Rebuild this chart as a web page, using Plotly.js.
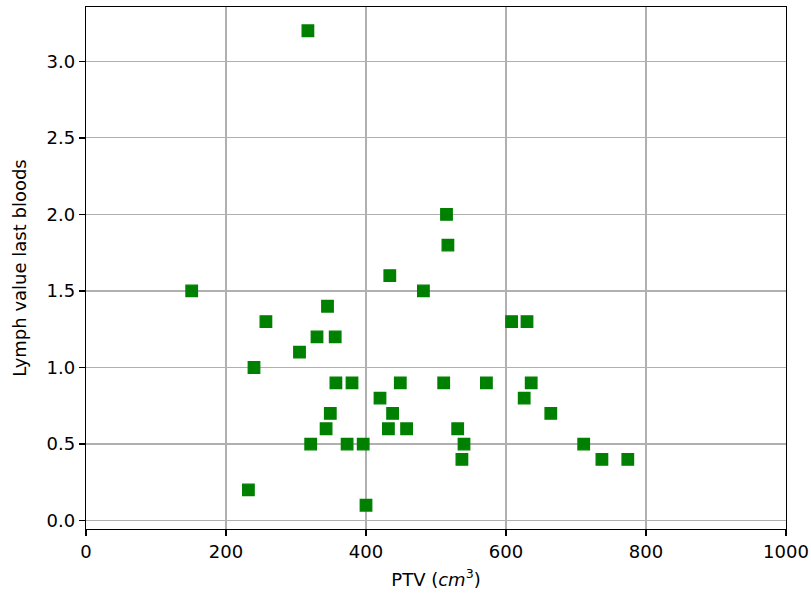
<!DOCTYPE html>
<html>
<head>
<meta charset="utf-8">
<script src="https://cdn.plot.ly/plotly-3.0.1.min.js"></script>
<style>html,body{margin:0;padding:0;background:#fff;}#chart{width:811px;height:596px;}</style>
</head>
<body>
<div id="chart"></div>
<script>
const ptv = [151, 232, 240, 257, 305, 317, 321, 330, 345, 343, 349, 356, 357, 373, 380, 396, 400, 420, 434, 432, 438, 449, 458, 482, 511, 515, 517, 531, 540, 537, 572, 608, 630, 636, 626, 664, 711, 737, 774];
const lymph = [1.5, 0.2, 1.0, 1.3, 1.1, 3.2, 0.5, 1.2, 1.4, 0.6, 0.7, 1.2, 0.9, 0.5, 0.9, 0.5, 0.1, 0.8, 1.6, 0.6, 0.7, 0.9, 0.6, 1.5, 0.9, 2.0, 1.8, 0.6, 0.5, 0.4, 0.9, 1.3, 1.3, 0.9, 0.8, 0.7, 0.5, 0.4, 0.4];
const xTicks = [0, 200, 400, 600, 800, 1000];
const yTicks = [0, 0.5, 1.0, 1.5, 2.0, 2.5, 3.0];

const font = {family: 'DejaVu Sans, sans-serif', size: 18, color: '#000'};
const axisCommon = {
  showline: true, linecolor: '#000', linewidth: 1.3, mirror: true,
  showgrid: true, gridcolor: '#b0b0b0', gridwidth: 1.1,
  zeroline: false, ticks: 'outside', ticklen: 6, tickcolor: '#000', tickwidth: 1.3,
  tickfont: font
};
Plotly.newPlot('chart', [{
  x: ptv, y: lymph, type: 'scatter', mode: 'markers',
  marker: {symbol: 'square', size: 11.5, color: '#008000', line: {width: 1.3, color: '#008000'}},
  cliponaxis: false
}], {
  width: 811, height: 596,
  margin: {l: 86, r: 25, t: 7, b: 67},
  paper_bgcolor: '#fff', plot_bgcolor: '#fff',
  showlegend: false,
  font: font,
  xaxis: Object.assign({}, axisCommon, {
    range: [0, 1000], tickvals: xTicks, ticktext: xTicks.map(String),
    title: {text: 'PTV (<i>cm</i><sup>3</sup>)', font: font, standoff: 12}
  }),
  yaxis: Object.assign({}, axisCommon, {
    range: [-0.055, 3.355], tickvals: yTicks, ticktext: yTicks.map(v => v.toFixed(1)),
    title: {text: 'Lymph value last bloods', font: font, standoff: 15}
  })
}, {displayModeBar: false, staticPlot: true});
</script>
</body>
</html>
